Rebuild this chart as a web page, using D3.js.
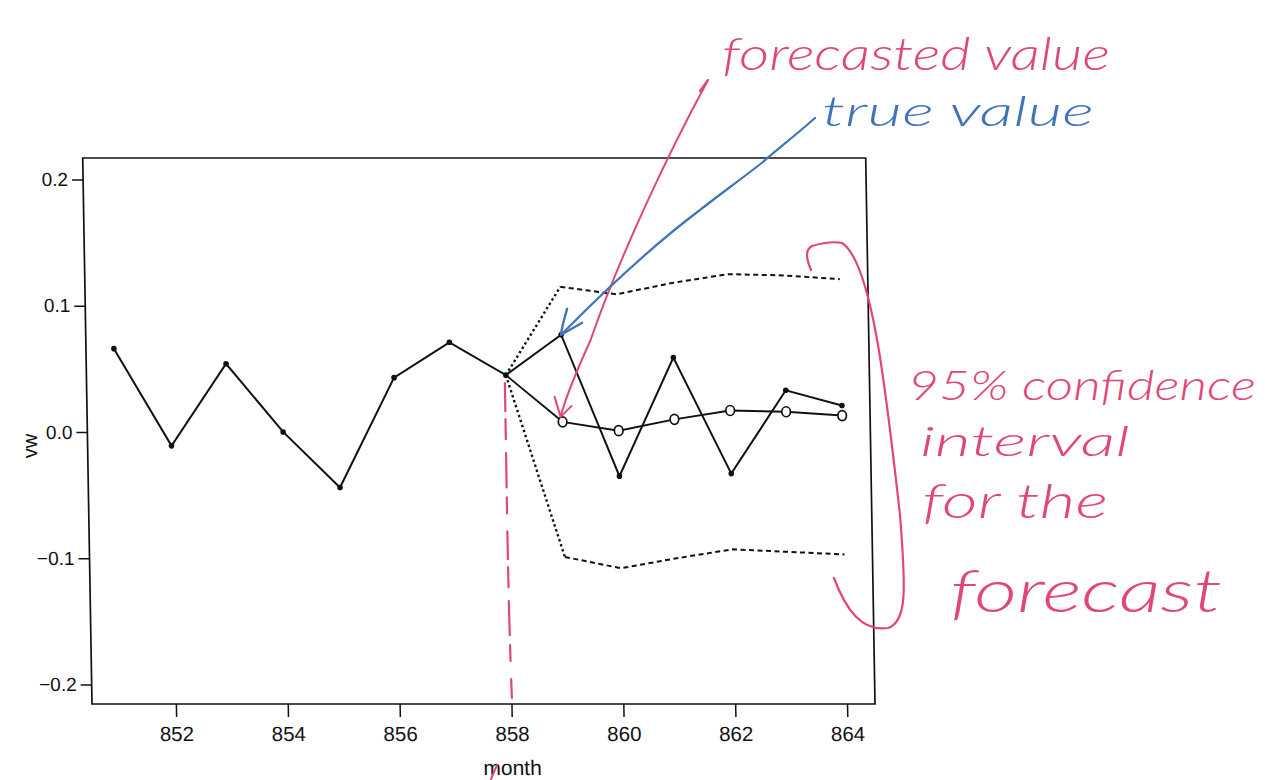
<!DOCTYPE html>
<html>
<head>
<meta charset="utf-8">
<script src="https://cdn.jsdelivr.net/npm/d3@7"></script>
<style>
  html, body { margin: 0; padding: 0; background: #fff; }
  svg { display: block; }
  .tick text { font-family: "Liberation Sans", Arial, sans-serif; }
  .hand { font-family: Lato, "DejaVu Sans", sans-serif; font-style: italic; font-weight: 300; }
</style>
</head>
<body>
<svg id="chart" width="1265" height="780"></svg>
<script>
// Monthly series "vw": observed values, then forecasts from month 858 with 95% bounds
const months = [851, 852, 853, 854, 855, 856, 857, 858, 859, 860, 861, 862, 863, 864];
const observed = [0.066, -0.011, 0.054, 0.000, -0.044, 0.043, 0.071, 0.045, 0.077, -0.035, 0.059, -0.033, 0.033, 0.021];

const originMonth = 858;
const forecastMonths = [859, 860, 861, 862, 863, 864];
const forecast = [0.008, 0.001, 0.010, 0.017, 0.016, 0.013];
const upper = [0.115, 0.109, 0.118, 0.125, 0.124, 0.121];
const lower = [-0.099, -0.108, -0.100, -0.093, -0.095, -0.097];

const xTicks = [852, 854, 856, 858, 860, 862, 864];
const yTicks = [-0.2, -0.1, 0.0, 0.1, 0.2];

const PINK = "#e1467b";
const BLUE = "#3f74b6";

const svg = d3.select("#chart");

const x = d3.scaleLinear().domain([850.5, 864.5]).range([92, 875]);
const y = d3.scaleLinear().domain([-0.2155, 0.217]).range([704, 158]);

// the printed panel leans slightly: shear it around its bottom edge
const lean = 0.017;
const baseY = y.range()[0];
const page = (m, v) => [x(m) + lean * (y(v) - baseY), y(v)];

const plot = svg.append("g")
  .attr("transform", `translate(${-lean * baseY},0) skewX(${Math.atan(lean) * 180 / Math.PI})`);

// frame
plot.append("rect")
  .attr("x", x(850.5)).attr("y", y(0.217))
  .attr("width", x(864.5) - x(850.5)).attr("height", y(-0.2155) - y(0.217))
  .attr("fill", "none").attr("stroke", "#111").attr("stroke-width", 1.7);

const fmtY = v => (v < 0 ? "\u2212" : "") + Math.abs(v).toFixed(1);

const yAxis = plot.append("g")
  .attr("transform", `translate(${x(850.5)},0)`)
  .call(d3.axisLeft(y).tickValues(yTicks).tickFormat(fmtY).tickSize(11).tickSizeOuter(0).tickPadding(4));
yAxis.select(".domain").remove();
yAxis.selectAll(".tick line").attr("stroke", "#111").attr("stroke-width", 1.5);
yAxis.selectAll(".tick text").attr("font-size", 19).attr("fill", "#111");

const xAxis = plot.append("g")
  .attr("transform", `translate(0,${baseY})`)
  .call(d3.axisBottom(x).tickValues(xTicks).tickFormat(d3.format("d")).tickSize(13).tickSizeOuter(0).tickPadding(9));
xAxis.select(".domain").remove();
xAxis.selectAll(".tick line").attr("stroke", "#111").attr("stroke-width", 1.5);
xAxis.selectAll(".tick text").attr("font-size", 20.5).attr("fill", "#111");

plot.append("text")
  .attr("x", (x(850.5) + x(864.5)) / 2 + 28).attr("y", 775)
  .attr("text-anchor", "middle")
  .attr("font-family", "'Liberation Sans', Arial, sans-serif")
  .attr("font-size", 21).attr("fill", "#111")
  .text("month");

svg.append("text")
  .attr("transform", "translate(37,446) rotate(-90)")
  .attr("text-anchor", "middle")
  .attr("font-family", "'Liberation Sans', Arial, sans-serif")
  .attr("font-size", 20).attr("fill", "#111")
  .text("vw");

const line = d3.line().x(d => x(d[0])).y(d => y(d[1]));

// observed series
const obs = months.map((m, i) => [m, observed[i]]);
plot.append("path").datum(obs)
  .attr("d", line).attr("fill", "none").attr("stroke", "#111").attr("stroke-width", 2);
plot.selectAll("circle.obs").data(obs).join("circle")
  .attr("class", "obs")
  .attr("cx", d => x(d[0])).attr("cy", d => y(d[1])).attr("r", 2.8).attr("fill", "#111");

const originVal = observed[months.indexOf(originMonth)];

// 95% bounds: dotted lead-in from the origin, dashed afterwards
[upper, lower].forEach(bound => {
  const lead = [[originMonth, originVal], [forecastMonths[0], bound[0]]];
  plot.append("path").datum(lead)
    .attr("d", line).attr("fill", "none").attr("stroke", "#111")
    .attr("stroke-width", 2.4).attr("stroke-dasharray", "2.4,2.8");
  const rest = forecastMonths.map((m, i) => [m, bound[i]]);
  plot.append("path").datum(rest)
    .attr("d", line).attr("fill", "none").attr("stroke", "#111")
    .attr("stroke-width", 2).attr("stroke-dasharray", "5,3.5");
});

// forecast path with open markers
const fc = [[originMonth, originVal]].concat(forecastMonths.map((m, i) => [m, forecast[i]]));
plot.append("path").datum(fc)
  .attr("d", line).attr("fill", "none").attr("stroke", "#111").attr("stroke-width", 1.9);
plot.selectAll("ellipse.fc").data(fc.slice(1)).join("ellipse")
  .attr("class", "fc")
  .attr("cx", d => x(d[0])).attr("cy", d => y(d[1])).attr("rx", 4.3).attr("ry", 5)
  .attr("fill", "#fff").attr("stroke", "#111").attr("stroke-width", 1.7);

// ---- pen annotations ----
const ink = svg.append("g").attr("fill", "none").attr("stroke-linecap", "round").attr("stroke-linejoin", "round");

// vertical marker at the forecast origin
const [ox0, oy0] = page(originMonth, originVal);
ink.append("path")
  .attr("d", `M${ox0 - 1},${oy0 + 8} C${ox0 + 1},${oy0 + 120} ${ox0 + 2},${oy0 + 220} ${ox0 + 6},${baseY - 6}`)
  .attr("stroke", PINK).attr("stroke-width", 2.2).attr("stroke-dasharray", "28,8,20,14,34,10,16,18");
ink.append("path").attr("d", "M491,779 L497,765").attr("stroke", PINK).attr("stroke-width", 2);

// arrow to the first forecast
const [fx, fy] = page(forecastMonths[0], forecast[0]);
const ftx = fx - 2, fty = fy - 5;
ink.append("path")
  .attr("d", `M707,82 C670,150 620,255 ${ftx + 30},340 C${ftx + 12},380 ${ftx + 4},400 ${ftx},${fty}`)
  .attr("stroke", PINK).attr("stroke-width", 2);
ink.append("path")
  .attr("d", `M${ftx - 6},${fty - 20} L${ftx},${fty} L${ftx + 11},${fty - 11}`)
  .attr("stroke", PINK).attr("stroke-width", 2);
ink.append("path").attr("d", "M700,91 L708,80").attr("stroke", PINK).attr("stroke-width", 2.2);

// arrow to the realised value
const [tx, ty] = page(forecastMonths[0], observed[months.indexOf(forecastMonths[0])]);
ink.append("path")
  .attr("d", `M815,118 C790,140 770,155 763,162 C740,180 715,198 700,210 C660,240 620,275 ${tx},${ty}`)
  .attr("stroke", BLUE).attr("stroke-width", 2.2);
ink.append("path")
  .attr("d", `M${tx + 6},${ty - 26} C${tx + 2},${ty - 12} ${tx},${ty - 5} ${tx},${ty} L${tx + 21},${ty - 12}`)
  .attr("stroke", BLUE).attr("stroke-width", 2.4);

// bracket around the interval
ink.append("path")
  .attr("d", "M811,270 C806,258 805,250 812,246 C822,243 832,241 842,243 C872,262 886,390 900,515 C906,590 907,622 888,628 C862,632 846,610 834,578")
  .attr("stroke", PINK).attr("stroke-width", 2.2);

// handwritten notes
const notes = [
  { t: "forecasted value", x: 722, y: 70, size: 46, len: 388, c: PINK },
  { t: "true value", x: 822, y: 126, size: 42, len: 272, c: BLUE },
  { t: "95% confidence", x: 908, y: 400, size: 42, len: 348, c: PINK },
  { t: "interval", x: 920, y: 456, size: 42, len: 210, c: PINK },
  { t: "for the", x: 922, y: 518, size: 48, len: 186, c: PINK },
  { t: "forecast", x: 950, y: 612, size: 60, len: 272, c: PINK }
];
svg.selectAll("text.hand").data(notes).join("text")
  .attr("class", "hand")
  .attr("x", d => d.x).attr("y", d => d.y)
  .attr("font-size", d => d.size)
  .attr("textLength", d => d.len).attr("lengthAdjust", "spacingAndGlyphs")
  .attr("fill", d => d.c)
  .text(d => d.t);
</script>
</body>
</html>
